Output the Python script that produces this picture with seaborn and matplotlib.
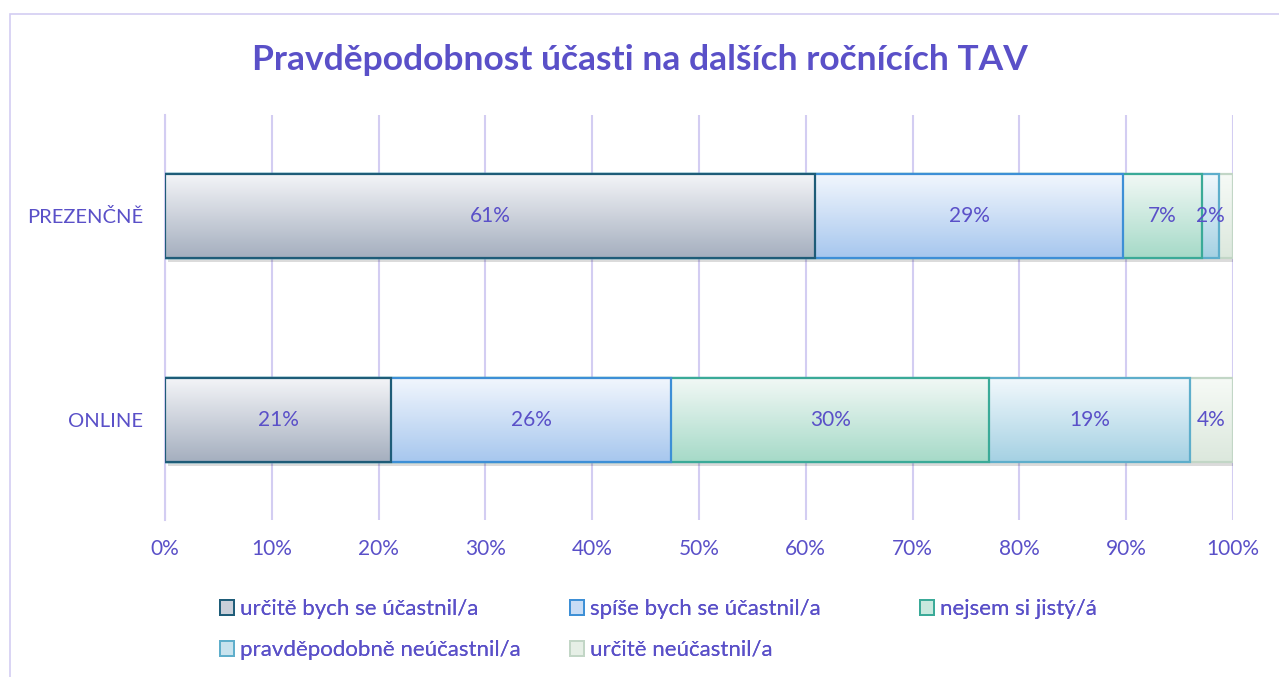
import numpy as np
import pandas as pd
import seaborn as sns
import matplotlib.pyplot as plt
import matplotlib.patches as mpatches
import matplotlib.patheffects as pe
from matplotlib.colors import LinearSegmentedColormap

# ---------- data ----------
forms = ['PREZENČNĚ', 'ONLINE']
answers = ['určitě bych se účastnil/a', 'spíše bych se účastnil/a', 'nejsem si jistý/á',
           'pravděpodobně neúčastnil/a', 'určitě neúčastnil/a']
prezencne = [60.9, 28.8, 7.4, 1.6, 1.3]
online = [21.2, 26.2, 29.8, 18.8, 4.0]
xticks = [0, 10, 20, 30, 40, 50, 60, 70, 80, 90, 100]

# gradient top / bottom and edge colour per answer
grad_top = ['#f3f4f7', '#f1f6fd', '#f1f8f5', '#f1f8fc', '#f6faf6']
grad_bot = ['#a5afbf', '#a7c7ee', '#a6dac8', '#a5d1e3', '#dce8dd']
legend_fill = ['#c9cfd9', '#c8dcf5', '#c8e9de', '#c8e3ee', '#e6efe6']
edges = ['#1e5c78', '#3d8fd6', '#3aaa98', '#5eaecb', '#c2d6c6']
purple = '#5a50c8'
lavender = '#d3cdf2'

df = pd.DataFrame({'forma': np.repeat(forms, len(answers)),
                   'odpoved': answers * len(forms),
                   'pct': prezencne + online})
df['cum'] = df.groupby('forma')['pct'].cumsum()

sns.set_theme(style='white')
plt.rcParams['font.family'] = ['Lato', 'DejaVu Sans']

fig = plt.figure(figsize=(12.79, 6.77), dpi=100)
ax = fig.add_axes([165 / 1279, 157 / 677, 1068 / 1279, 405 / 677])

# outer chart border
fig.patches.append(mpatches.Rectangle((10 / 1279, -0.01), 1.0, 0.979 + 0.01,
                                      transform=fig.transFigure, fill=False,
                                      edgecolor=lavender, linewidth=1.2))

# stacked bars: draw cumulative sums from the largest so smaller ones sit on top
for i in reversed(range(len(answers))):
    sub = df[df['odpoved'] == answers[i]]
    n0 = len(ax.patches)
    sns.barplot(data=sub, x='cum', y='forma', order=forms, orient='h',
                width=0.41, ax=ax)
    cmap = LinearSegmentedColormap.from_list('g%d' % i, [grad_top[i], grad_bot[i]])
    z = 3 + (len(answers) - i)
    for p in ax.patches[n0:]:
        x0, y0 = p.get_x(), p.get_y()
        w, h = p.get_width(), p.get_height()
        p.set_facecolor('none')
        p.set_edgecolor(edges[i])
        p.set_linewidth(1.6)
        p.set_zorder(z + 0.2)
        img = ax.imshow(np.linspace(0, 1, 64).reshape(-1, 1), cmap=cmap,
                        extent=(x0, x0 + w, y0 + h, y0), origin='upper',
                        aspect='auto', zorder=z + 0.1, interpolation='bilinear')
        img.set_clip_path(p)
        if i == len(answers) - 1:
            sh = mpatches.Rectangle((x0, y0), w, h, facecolor='white', edgecolor='none',
                                    zorder=2.5,
                                    path_effects=[pe.SimplePatchShadow(offset=(2, -3),
                                                                       shadow_rgbFace='#000000',
                                                                       alpha=0.14)])
            ax.add_patch(sh)

# data labels in the middle of each segment
for _, r in df.iterrows():
    if r['pct'] < 1.5:
        continue
    ax.text(r['cum'] - r['pct'] / 2, forms.index(r['forma']), '%d%%' % round(r['pct']),
            ha='center', va='center', color=purple, fontsize=15, zorder=20)

ax.set_xlim(0, 100)
ax.set_ylim(1.49, -0.495)
ax.set_xticks(xticks)
ax.set_xticklabels(['%d%%' % t for t in xticks])
ax.set_xlabel('')
ax.set_ylabel('')
ax.grid(axis='x', color=lavender, linewidth=1.5, zorder=0)
ax.grid(axis='y', visible=False)
ax.set_axisbelow(True)
for s in ['top', 'right', 'bottom']:
    ax.spines[s].set_visible(False)
ax.spines['left'].set_color(lavender)
ax.spines['left'].set_linewidth(1.5)
ax.tick_params(axis='x', length=0, pad=14, labelsize=15, labelcolor=purple)
ax.tick_params(axis='y', length=0, pad=16, labelsize=14.5, labelcolor=purple)

fig.text(0.5, 1 - 60 / 677, 'Pravděpodobnost účasti na dalších ročnících TAV',
         ha='center', va='center', fontsize=25.5, fontweight='bold', color=purple)

# legend: three columns placed like in the original
cols = [[0, 3], [1, 4], [2]]
col_x = [211, 561, 911]
for cx, idx in zip(col_x, cols):
    handles = [mpatches.Patch(facecolor=legend_fill[k], edgecolor=edges[k], linewidth=1.4,
                              label=answers[k]) for k in idx]
    leg = fig.legend(handles=handles, loc='upper left',
                     bbox_to_anchor=(cx / 1279, 1 - 590 / 677), frameon=False,
                     fontsize=16, handlelength=0.65, handleheight=0.65,
                     handletextpad=0.25, labelspacing=0.95, borderaxespad=0)
    for t in leg.get_texts():
        t.set_color(purple)
    fig.add_artist(leg)

fig.savefig('out.png', dpi=100)
